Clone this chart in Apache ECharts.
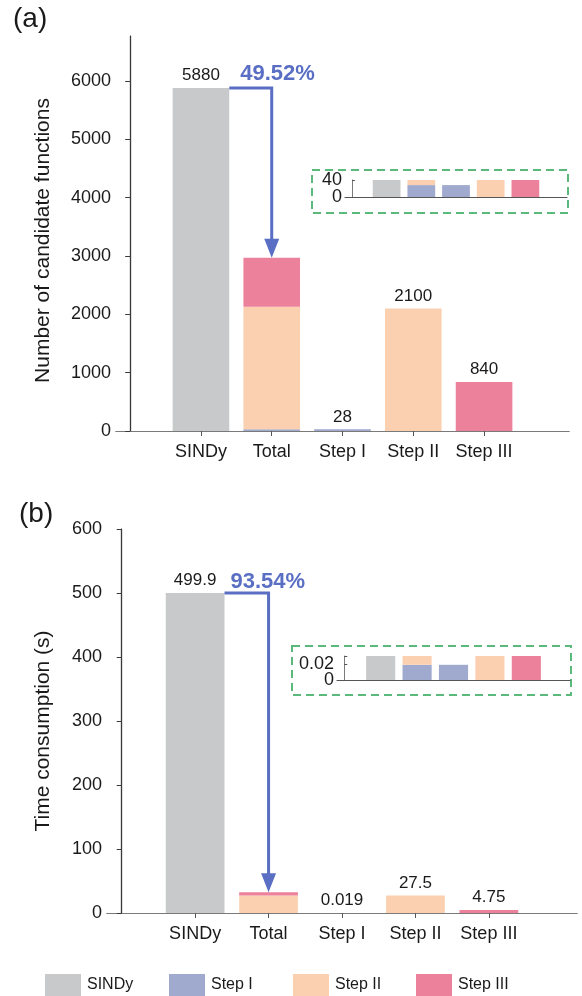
<!DOCTYPE html>
<html>
<head>
<meta charset="utf-8">
<script src="https://cdn.jsdelivr.net/npm/echarts@6/dist/echarts.min.js"></script>
<style>html,body{margin:0;padding:0;background:#fff}#c{width:582px;height:996px}</style>
</head>
<body>
<div id="c"></div>
<script>
// ---------- data ----------
const categories = ['SINDy', 'Total', 'Step I', 'Step II', 'Step III'];
const seriesNames = ['SINDy', 'Step I', 'Step II', 'Step III'];

// (a) number of candidate functions
const candSindy   = [5880, '-', '-', '-', '-'];
const candStepI   = ['-', 28, 28, '-', '-'];
const candStepII  = ['-', 2100, '-', 2100, '-'];
const candStepIII = ['-', 840, '-', '-', 840];
const candLabels  = ['5880', '', '28', '2100', '840'];
const candTicks   = [0, 1000, 2000, 3000, 4000, 5000, 6000];
const candInsetTicks = [0, 40];
const candReduction = '49.52%';

// (b) time consumption (s)
const timeSindy   = [499.9, '-', '-', '-', '-'];
const timeStepI   = ['-', 0.019, 0.019, '-', '-'];
const timeStepII  = ['-', 27.5, '-', 27.5, '-'];
const timeStepIII = ['-', 4.75, '-', '-', 4.75];
const timeLabels  = ['499.9', '', '0.019', '27.5', '4.75'];
const timeTicks   = [0, 100, 200, 300, 400, 500, 600];
const timeInsetTicks = [0, 0.02];
const timeReduction = '93.54%';

// ---------- styles ----------
const colors = { 'SINDy': '#c8c9cb', 'Step I': '#a0a9ce', 'Step II': '#fbd0b1', 'Step III': '#ec819b' };
const ownIndex = { 'SINDy': 0, 'Step I': 2, 'Step II': 3, 'Step III': 4 };
const blue = '#5a6fc4';
const axisGray = '#7a7a7a';
const txt = '#1a1a1a';
const FONT = 'Liberation Sans';
const W = 582, H = 996;
const XMIN = -0.2, XMAX = 6.2;   // frame x-limits in category units (categories at 1..5)

const chart = echarts.init(document.getElementById('c'), null, { renderer: 'canvas' });

const grids = [], xAxes = [], yAxes = [], series = [];

// frame rectangle -> data grid covering categories 1..5 (band edges 0.5..5.5)
function dataGridFor(f) {
  const left = f.left, right = W - f.right, unit = (right - left) / (XMAX - XMIN);
  const dl = left + (0.5 - XMIN) * unit;
  const dr = left + (5.5 - XMIN) * unit;
  return { left: dl, right: W - dr, top: f.top, bottom: f.bottom };
}

function addPanel(frame, ymax, ticks, name, nameGap, nameShift) {
  const gF = grids.length; grids.push(frame);
  const gD = grids.length; grids.push(dataGridFor(frame));
  const xi = xAxes.length;
  xAxes.push({ gridIndex: gF, type: 'value', min: XMIN, max: XMAX, position: 'bottom',
    axisLine: { show: true, lineStyle: { color: axisGray, width: 1.2 } },
    axisTick: { show: false }, axisLabel: { show: false }, splitLine: { show: false } });
  xAxes.push({ gridIndex: gF, type: 'value', min: XMIN, max: XMAX, position: 'top',
    axisLine: { show: true, lineStyle: { color: axisGray, width: 1.2 } },
    axisTick: { show: true, inside: true, length: 5, customValues: [1, 2, 3, 4, 5], lineStyle: { color: '#555' } },
    axisLabel: { show: false }, splitLine: { show: false } });
  xAxes.push({ gridIndex: gD, type: 'category', data: categories, boundaryGap: true,
    axisLine: { show: false }, axisTick: { show: false },
    axisLabel: { show: true, interval: 0, margin: 12, fontSize: 18, color: txt, fontFamily: FONT } });
  const yi = yAxes.length;
  yAxes.push({ gridIndex: gF, type: 'value', min: 0, max: ymax, position: 'left',
    name: name, nameLocation: 'middle', nameGap: nameGap,
    nameTextStyle: { fontSize: 21, color: txt, fontFamily: FONT, padding: [0, nameShift, 0, 0] },
    axisLine: { show: true, lineStyle: { color: axisGray, width: 1.2 } },
    axisTick: { show: true, inside: false, length: 4, customValues: ticks, lineStyle: { color: '#555' } },
    axisLabel: { show: true, customValues: ticks, margin: 5, fontSize: 18, color: txt, fontFamily: FONT,
                 formatter: v => String(v), showMinLabel: true, showMaxLabel: true },
    splitLine: { show: false } });
  yAxes.push({ gridIndex: gF, type: 'value', min: 0, max: ymax, position: 'right',
    axisLine: { show: true, lineStyle: { color: '#3a3a3a', width: 1.2 } },
    axisTick: { show: true, inside: true, length: 5, customValues: ticks, lineStyle: { color: '#3a3a3a' } },
    axisLabel: { show: false }, splitLine: { show: false } });
  yAxes.push({ gridIndex: gD, type: 'value', min: 0, max: ymax, show: false, splitLine: { show: false } });
  return { x: xi + 2, y: yi + 2 };
}

function addInset(frame, ymax, labelVals, tickVals) {
  const gF = grids.length; grids.push(frame);
  const gD = grids.length; grids.push(dataGridFor(frame));
  const xi = xAxes.length;
  xAxes.push({ gridIndex: gF, type: 'value', min: XMIN, max: XMAX, position: 'bottom',
    axisLine: { show: true, lineStyle: { color: '#555', width: 1.2 } },
    axisTick: { show: false }, axisLabel: { show: false }, splitLine: { show: false } });
  xAxes.push({ gridIndex: gD, type: 'category', data: categories, boundaryGap: true, show: false });
  const yi = yAxes.length;
  yAxes.push({ gridIndex: gF, type: 'value', min: 0, max: ymax, position: 'left',
    axisLine: { show: true, lineStyle: { color: axisGray, width: 1 } },
    axisTick: { show: true, inside: true, length: 3, customValues: tickVals, lineStyle: { color: '#555' } },
    axisLabel: { show: true, customValues: [labelVals[0]], margin: 3, fontSize: 18, color: txt, fontFamily: FONT,
                 formatter: v => String(v), showMinLabel: true, showMaxLabel: true },
    splitLine: { show: false } });
  yAxes.push({ gridIndex: gD, type: 'value', min: 0, max: ymax, show: false, splitLine: { show: false } });
  // extra overlapping grid carrying the upper tick label (avoids overlap hiding)
  const gL = grids.length; grids.push(Object.assign({}, frame));
  xAxes.push({ gridIndex: gL, type: 'value', min: XMIN, max: XMAX, show: false });
  yAxes.push({ gridIndex: gL, type: 'value', min: 0, max: ymax, position: 'left',
    axisLine: { show: false }, axisTick: { show: false },
    axisLabel: { show: true, customValues: [labelVals[1]], margin: 3, fontSize: 18, color: txt, fontFamily: FONT,
                 formatter: v => String(v), showMinLabel: true, showMaxLabel: true },
    splitLine: { show: false } });
  return { x: xi + 1, y: yi + 1 };
}

function addBars(ax, stackId, dataSets, labels, withLabels) {
  seriesNames.forEach((nm, k) => {
    series.push({
      type: 'bar', name: nm, xAxisIndex: ax.x, yAxisIndex: ax.y, stack: stackId,
      barWidth: '80%', clip: true,
      itemStyle: { color: colors[nm] },
      data: dataSets[k],
      label: withLabels ? {
        show: true, position: 'top', distance: 4, fontSize: 17, color: txt, fontFamily: FONT,
        formatter: p => (p.dataIndex === ownIndex[nm] ? labels[p.dataIndex] : '')
      } : { show: false }
    });
  });
}

function arrowRenderer(reduction, textDx, textDy) {
  return function (params, api) {
    const i0 = api.value(0), y0 = api.value(1), i1 = api.value(2), y1 = api.value(3);
    const band = api.size([1, 0])[0];
    const p0 = api.coord([i0, y0]); p0[0] += band * 0.4;
    const pc = api.coord([i1, y0]);
    const p1 = api.coord([i1, y1]);
    const headH = 19, headW = 7.5;
    return {
      type: 'group', children: [
        { type: 'polyline', shape: { points: [p0, pc, [pc[0], p1[1] - headH + 2]] },
          style: { stroke: blue, lineWidth: 3, fill: null } },
        { type: 'polygon', shape: { points: [[p1[0] - headW, p1[1] - headH], [p1[0] + headW, p1[1] - headH], [p1[0], p1[1]]] },
          style: { fill: blue } },
        { type: 'text', style: { text: reduction, x: p0[0] + textDx, y: p0[1] - textDy, verticalAlign: 'bottom',
            font: 'bold 22px "' + FONT + '"', fill: blue } }
      ]
    };
  };
}

const candSets = [candSindy, candStepI, candStepII, candStepIII];
const timeSets = [timeSindy, timeStepI, timeStepII, timeStepIII];

const axA  = addPanel({ left: 116, top: 36, right: 13, bottom: 565 }, 6771, candTicks, 'Number of candidate functions', 62, 14);
const axAi = addInset({ left: 345, top: 180, right: 15, bottom: 799 }, 40, candInsetTicks, candInsetTicks);
const axB  = addPanel({ left: 107, top: 529, right: 5, bottom: 83 }, 600, timeTicks, 'Time consumption (s)', 53, 20);
const axBi = addInset({ left: 337, top: 656, right: 12, bottom: 316 }, 0.03, timeInsetTicks, [0, 0.02, 0.03]);

addBars(axA, 'a', candSets, candLabels, true);
addBars(axAi, 'ai', candSets, candLabels, false);
addBars(axB, 'b', timeSets, timeLabels, true);
addBars(axBi, 'bi', timeSets, timeLabels, false);

const candTotal = candStepI[1] + candStepII[1] + candStepIII[1];
const timeTotal = timeStepI[1] + timeStepII[1] + timeStepIII[1];
series.push({
  type: 'custom', xAxisIndex: axA.x, yAxisIndex: axA.y, clip: false, silent: true,
  encode: { x: [0, 2], y: [1, 3] },
  renderItem: arrowRenderer(candReduction, 11, 3),
  data: [[0, candSindy[0], 1, candTotal]], z: 10
});
series.push({
  type: 'custom', xAxisIndex: axB.x, yAxisIndex: axB.y, clip: false, silent: true,
  encode: { x: [0, 2], y: [1, 3] },
  renderItem: arrowRenderer(timeReduction, 6, 0),
  data: [[0, timeSindy[0], 1, timeTotal]], z: 10
});

const legendLefts = [45, 169, 293, 416];
const legends = seriesNames.map((nm, i) => ({
  data: [nm], left: legendLefts[i], top: 974, padding: 0, icon: 'rect', itemWidth: 36, itemHeight: 22,
  itemGap: 0, selectedMode: false,
  textStyle: { fontSize: 16, color: txt, fontFamily: FONT, padding: [0, 0, 0, 1] }
}));

chart.setOption({
  animation: false,
  textStyle: { fontFamily: FONT },
  grid: grids,
  xAxis: xAxes,
  yAxis: yAxes,
  legend: legends,
  series: series,
  graphic: [
    { type: 'text', left: 13, top: 5, style: { text: '(a)', font: '28px "' + FONT + '"', fill: txt } },
    { type: 'text', left: 19, top: 500, style: { text: '(b)', font: '28px "' + FONT + '"', fill: txt } },
    { type: 'rect', shape: { x: 312, y: 170, width: 256, height: 43 },
      style: { fill: null, stroke: '#5bb97c', lineWidth: 2, lineDash: [8, 5] } },
    { type: 'rect', shape: { x: 292, y: 646, width: 279, height: 49 },
      style: { fill: null, stroke: '#5bb97c', lineWidth: 2, lineDash: [8, 5] } }
  ]
});
</script>
</body>
</html>
